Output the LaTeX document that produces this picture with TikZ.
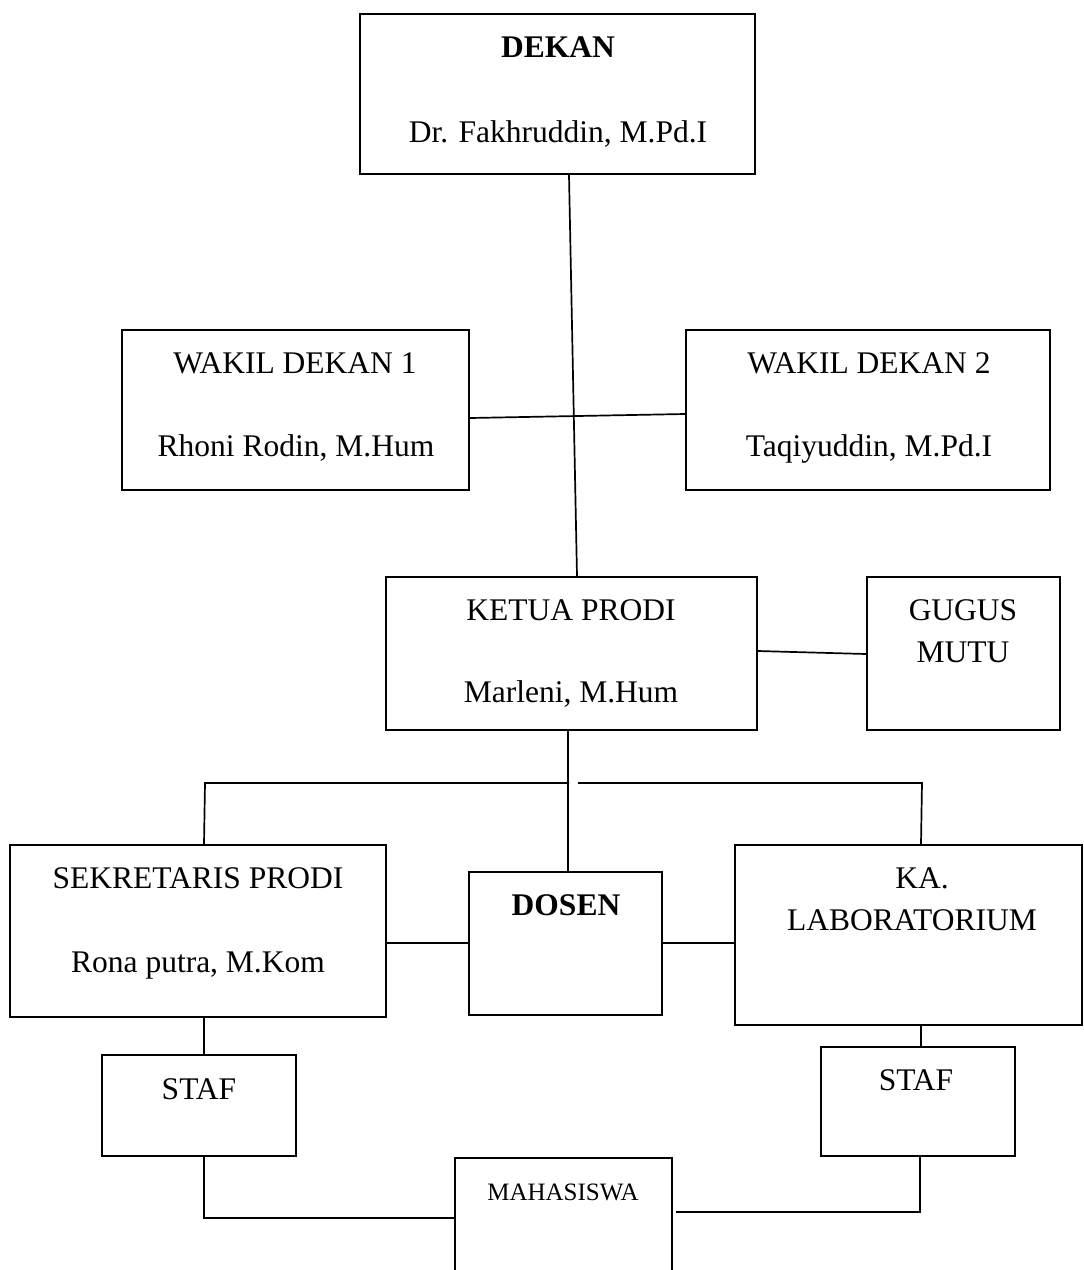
\documentclass[tikz,border=0pt]{standalone}
\usepackage{fontspec}
\setmainfont{Liberation Serif}
\usetikzlibrary{calc}
\begin{document}
\begin{tikzpicture}[x=1pt,y=-1pt,
 box/.style={draw, line width=2pt, inner sep=0pt, rectangle},
 conn/.style={line width=1.7pt},
 lbl/.style={anchor=base, inner sep=0pt, font=\fontsize{31.5}{36}\selectfont},
 smalllbl/.style={anchor=base, inner sep=0pt, font=\fontsize{25}{30}\selectfont}]
\useasboundingbox (0,0) rectangle (1084,1270);
\clip (0,0) rectangle (1084,1270);
% boxes
\node[box, minimum width=395pt, minimum height=160pt] (dekan) at (557.5,94) {};
\node[box, minimum width=347pt, minimum height=160pt] (w1) at (295.5,410) {};
\node[box, minimum width=364pt, minimum height=160pt] (w2) at (868,410) {};
\node[box, minimum width=371pt, minimum height=153pt] (ketua) at (571.5,653.5) {};
\node[box, minimum width=193pt, minimum height=153pt] (gugus) at (963.5,653.5) {};
\node[box, minimum width=376pt, minimum height=172pt] (sek) at (198,931) {};
\node[box, minimum width=193pt, minimum height=143pt] (dosen) at (565.5,943.5) {};
\node[box, minimum width=347pt, minimum height=180pt] (lab) at (908.5,935) {};
\node[box, minimum width=194pt, minimum height=101pt] (staf1) at (199,1105.5) {};
\node[box, minimum width=194pt, minimum height=109pt] (staf2) at (918,1101.5) {};
\node[box, minimum width=217pt, minimum height=142pt] (maha) at (563.5,1229) {};
% texts
\node[lbl] (t1) at (558,57) {\textbf{DEKAN}};
\node[lbl] (t2) at (558,142) {Dr. Fakhruddin, M.Pd.I};
\node[lbl] (t3) at (295,373) {WAKIL DEKAN 1};
\node[lbl] (t4) at (296,456) {Rhoni Rodin, M.Hum};
\node[lbl] (t5) at (869,373) {WAKIL DEKAN 2};
\node[lbl] (t6) at (869,456) {Taqiyuddin, M.Pd.I};
\node[lbl] (t7) at (571,620) {KETUA PRODI};
\node[lbl] (t8) at (571,702) {Marleni, M.Hum};
\node[lbl] (t9) at (963,620) {GUGUS};
\node[lbl] (t10) at (963,662) {MUTU};
\node[lbl] (t11) at (198,888) {SEKRETARIS PRODI};
\node[lbl] (t12) at (198,972) {Rona putra, M.Kom};
\node[lbl] (t13) at (566,915) {\textbf{DOSEN}};
\node[lbl] (t14) at (922,888) {KA.};
\node[lbl] (t15) at (912,930) {LABORATORIUM};
\node[lbl] (t16) at (199,1099) {STAF};
\node[lbl] (t17) at (916,1090) {STAF};
\node[smalllbl] (t18) at (563,1200) {MAHASISWA};
% branch coordinates
\coordinate (bl) at (205,783);
\coordinate (bm1) at (569,783);
\coordinate (bm2) at (578,783);
\coordinate (br) at (922,783);
% connectors
\draw[conn] ($(dekan.south west)+(210,0)$) -- ($(ketua.north west)+(192,0)$);
\draw[conn] ($(w1.east)+(0,8)$) -- ($(w2.west)+(0,4)$);
\draw[conn] ($(ketua.east)+(0,-2.5)$) -- ($(gugus.west)+(0,0.5)$);
\draw[conn] ($(ketua.south west)+(183,0)$) -- ($(dosen.north west)+(100,0)$);
\draw[conn] ($(sek.north west)+(195,0)$) -- (bl) -- (bm1);
\draw[conn] (bm2) -- (br) -- ($(lab.north west)+(187,0)$);
\draw[conn] ($(sek.east)+(0,12)$) -- ($(dosen.west)+(0,-0.5)$);
\draw[conn] ($(dosen.east)+(0,-0.5)$) -- ($(lab.west)+(0,8)$);
\draw[conn] ($(sek.south west)+(195,0)$) -- ($(staf1.north west)+(103,0)$);
\draw[conn] ($(lab.south west)+(187,0)$) -- ($(staf2.north west)+(101,0)$);
\draw[conn] ($(staf1.south west)+(103,0)$) |- ($(maha.north west)+(0,61)$);
\coordinate (mr) at ($(maha.north east)+(3,55)$);
\draw[conn] ($(staf2.south west)+(100,0)$) |- (mr);
\end{tikzpicture}
\end{document}
